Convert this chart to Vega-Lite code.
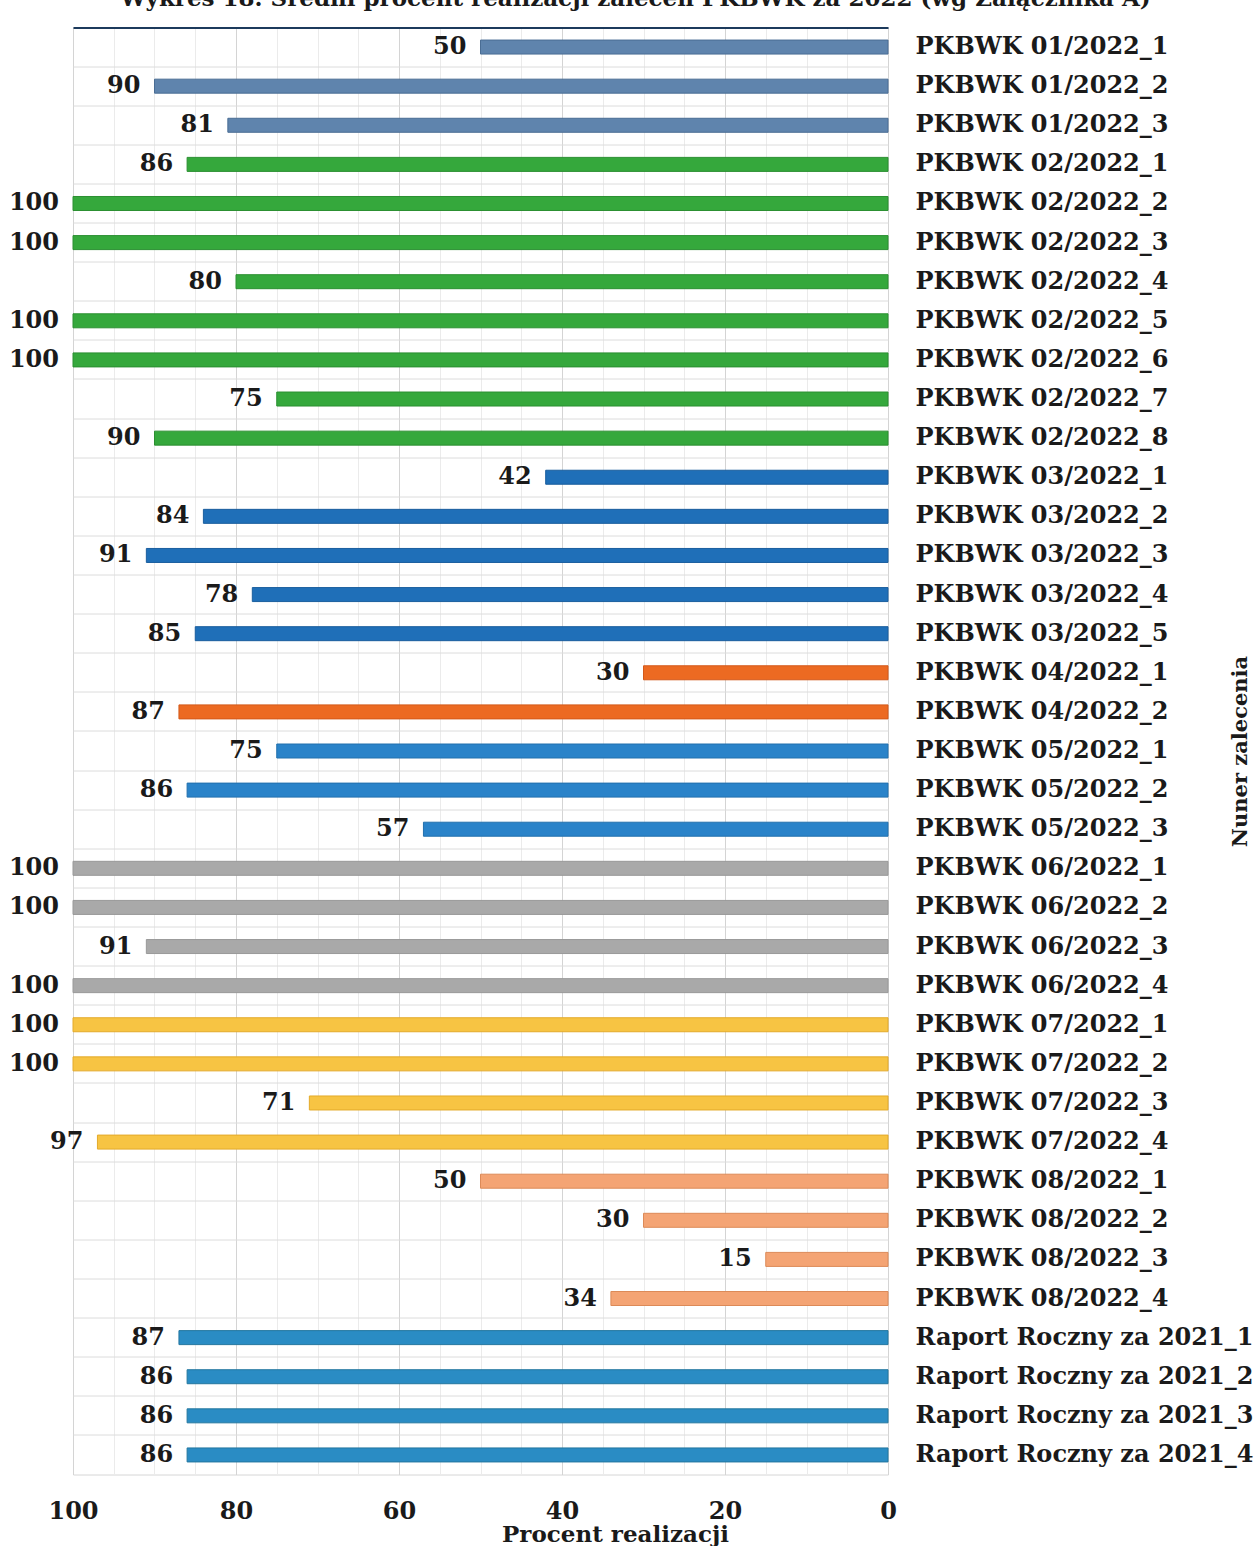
{
  "$schema": "https://vega.github.io/schema/vega-lite/v6.json",
  "autosize": {"type": "none"},
  "padding": {"left": 73, "top": 27.5, "right": 372, "bottom": 71},
  "width": 815,
  "height": 1447,
  "background": "white",
  "title": {
    "text": "Wykres 18. Średni procent realizacji zaleceń PKBWK za 2022 (wg Załącznika A)",
    "font": "DejaVu Serif",
    "fontSize": 23,
    "fontWeight": "bold",
    "color": "#1a1a1a",
    "anchor": "middle",
    "dx": 155,
    "offset": -1,
    "baseline": "alphabetic"
  },
  "config": {
    "view": {"stroke": "#d6d6d6", "strokeWidth": 1}
  },
  "data": {
    "values": [
      {"zalecenie": "PKBWK 01/2022_1", "grupa": "01", "procent": 50},
      {"zalecenie": "PKBWK 01/2022_2", "grupa": "01", "procent": 90},
      {"zalecenie": "PKBWK 01/2022_3", "grupa": "01", "procent": 81},
      {"zalecenie": "PKBWK 02/2022_1", "grupa": "02", "procent": 86},
      {"zalecenie": "PKBWK 02/2022_2", "grupa": "02", "procent": 100},
      {"zalecenie": "PKBWK 02/2022_3", "grupa": "02", "procent": 100},
      {"zalecenie": "PKBWK 02/2022_4", "grupa": "02", "procent": 80},
      {"zalecenie": "PKBWK 02/2022_5", "grupa": "02", "procent": 100},
      {"zalecenie": "PKBWK 02/2022_6", "grupa": "02", "procent": 100},
      {"zalecenie": "PKBWK 02/2022_7", "grupa": "02", "procent": 75},
      {"zalecenie": "PKBWK 02/2022_8", "grupa": "02", "procent": 90},
      {"zalecenie": "PKBWK 03/2022_1", "grupa": "03", "procent": 42},
      {"zalecenie": "PKBWK 03/2022_2", "grupa": "03", "procent": 84},
      {"zalecenie": "PKBWK 03/2022_3", "grupa": "03", "procent": 91},
      {"zalecenie": "PKBWK 03/2022_4", "grupa": "03", "procent": 78},
      {"zalecenie": "PKBWK 03/2022_5", "grupa": "03", "procent": 85},
      {"zalecenie": "PKBWK 04/2022_1", "grupa": "04", "procent": 30},
      {"zalecenie": "PKBWK 04/2022_2", "grupa": "04", "procent": 87},
      {"zalecenie": "PKBWK 05/2022_1", "grupa": "05", "procent": 75},
      {"zalecenie": "PKBWK 05/2022_2", "grupa": "05", "procent": 86},
      {"zalecenie": "PKBWK 05/2022_3", "grupa": "05", "procent": 57},
      {"zalecenie": "PKBWK 06/2022_1", "grupa": "06", "procent": 100},
      {"zalecenie": "PKBWK 06/2022_2", "grupa": "06", "procent": 100},
      {"zalecenie": "PKBWK 06/2022_3", "grupa": "06", "procent": 91},
      {"zalecenie": "PKBWK 06/2022_4", "grupa": "06", "procent": 100},
      {"zalecenie": "PKBWK 07/2022_1", "grupa": "07", "procent": 100},
      {"zalecenie": "PKBWK 07/2022_2", "grupa": "07", "procent": 100},
      {"zalecenie": "PKBWK 07/2022_3", "grupa": "07", "procent": 71},
      {"zalecenie": "PKBWK 07/2022_4", "grupa": "07", "procent": 97},
      {"zalecenie": "PKBWK 08/2022_1", "grupa": "08", "procent": 50},
      {"zalecenie": "PKBWK 08/2022_2", "grupa": "08", "procent": 30},
      {"zalecenie": "PKBWK 08/2022_3", "grupa": "08", "procent": 15},
      {"zalecenie": "PKBWK 08/2022_4", "grupa": "08", "procent": 34},
      {"zalecenie": "Raport Roczny za 2021_1", "grupa": "RR", "procent": 87},
      {"zalecenie": "Raport Roczny za 2021_2", "grupa": "RR", "procent": 86},
      {"zalecenie": "Raport Roczny za 2021_3", "grupa": "RR", "procent": 86},
      {"zalecenie": "Raport Roczny za 2021_4", "grupa": "RR", "procent": 86}
    ]
  },
  "encoding": {
    "y": {"field": "zalecenie", "type": "nominal", "sort": null, "scale": {"paddingInner": 0, "paddingOuter": 0}},
    "x": {"field": "procent", "type": "quantitative", "scale": {"domain": [0, 100], "reverse": true, "nice": false}}
  },
  "layer": [
    {
      "mark": {"type": "bar", "size": 14, "strokeWidth": 1},
      "encoding": {
        "y": {
          "field": "zalecenie", "type": "nominal", "sort": null,
          "axis": {
            "orient": "right",
            "title": "Nuner zalecenia",
            "titleFont": "DejaVu Serif",
            "titleFontSize": 21,
            "titleFontWeight": "bold",
            "titleColor": "#1a1a1a",
            "titleAngle": 270,
            "titleX": 352,
            "titleY": 723.5,
            "titleAlign": "center",
            "titleBaseline": "middle",
            "labelAlign": "left",
            "labelPadding": 27,
            "labelFont": "DejaVu Serif",
            "labelFontSize": 24,
            "labelFontWeight": "bold",
            "labelColor": "#1a1a1a",
            "labelLimit": 500,
            "ticks": false,
            "domain": false,
            "grid": false
          }
        },
        "x": {
          "field": "procent", "type": "quantitative",
          "axis": {
            "orient": "bottom",
            "values": [0,5,10,15,20,25,30,35,40,45,50,55,60,65,70,75,80,85,90,95,100],
            "labelExpr": "datum.value % 20 === 0 ? datum.label : ''",
            "labelFlush": false,
            "labelFont": "DejaVu Serif",
            "labelFontSize": 24,
            "labelFontWeight": "bold",
            "labelColor": "#1a1a1a",
            "labelPadding": 25,
            "ticks": false,
            "domain": false,
            "grid": true,
            "gridColor": {"condition": {"test": "datum.value % 20 === 0", "value": "#d4d4d4"}, "value": "#ebebeb"},
            "title": "Procent realizacji",
            "titleFont": "DejaVu Serif",
            "titleFontSize": 23,
            "titleFontWeight": "bold",
            "titleColor": "#1a1a1a",
            "titleX": 542,
            "titleY": 67,
            "titleBaseline": "alphabetic",
            "titleAlign": "center"
          }
        },
        "color": {
          "field": "grupa", "type": "nominal", "legend": null,
          "scale": {
            "domain": ["01","02","03","04","05","06","07","08","RR"],
            "range": ["#5f84ad","#35a83c","#1f6fb8","#ec6a22","#2a83c9","#a9a9a9","#f7c443","#f4a474","#2a8cc4"]
          }
        },
        "stroke": {
          "field": "grupa", "type": "nominal", "legend": null,
          "scale": {
            "domain": ["01","02","03","04","05","06","07","08","RR"],
            "range": ["#4a6d94","#2b8f31","#1a5e9e","#d3591a","#2270ad","#999999","#e3aa2a","#dc8a58","#23779f"]
          }
        }
      }
    },
    {
      "mark": {"type": "text", "align": "right", "baseline": "middle", "dx": -14, "font": "DejaVu Serif", "fontSize": 24, "fontWeight": "bold", "color": "#1a1a1a"},
      "encoding": {
        "text": {"field": "procent", "type": "quantitative"},
        "y": {
          "field": "zalecenie", "type": "nominal", "sort": null,
          "axis": {"orient": "left", "labels": false, "ticks": false, "domain": false, "title": null, "grid": true, "bandPosition": 0, "gridColor": "#dcdcdc"}
        },
        "x": {
          "field": "procent", "type": "quantitative",
          "axis": {"orient": "top", "labels": false, "ticks": false, "grid": false, "title": null, "domain": true, "domainColor": "#1c3a5c", "domainWidth": 2}
        }
      }
    }
  ],
  "resolve": {"axis": {"x": "independent", "y": "independent"}}
}
